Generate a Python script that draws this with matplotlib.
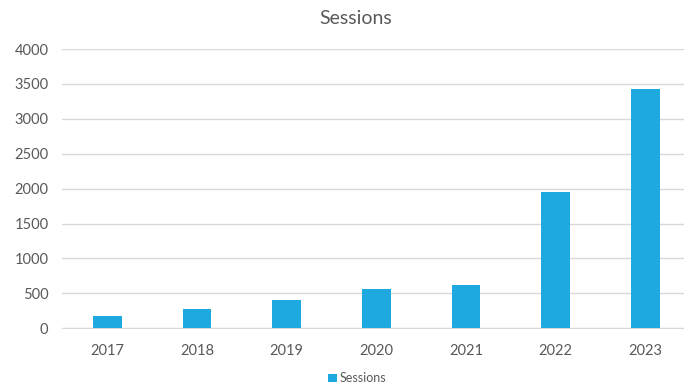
import matplotlib
matplotlib.use("Agg")
import matplotlib.pyplot as plt

# data
years = ['2017', '2018', '2019', '2020', '2021', '2022', '2023']
sessions = [180, 270, 405, 560, 620, 1955, 3430]

bar_color = '#1FA9E1'
text_color = '#595959'
grid_color = '#D9D9D9'

plt.rcParams['font.family'] = ['Lato', 'DejaVu Sans']

fig = plt.figure(figsize=(6.84, 3.88), dpi=100)
ax = fig.add_axes([0.0912, 0.1539, 0.918, 0.7198])

x = list(range(len(years)))
ax.bar(x, sessions, width=0.32, color=bar_color, label='Sessions', zorder=3)

ax.set_xlim(-0.5, len(years) - 0.5)
ax.set_ylim(0, 4000)
ax.set_yticks(range(0, 4001, 500))
ax.set_xticks(x)
ax.set_xticklabels(years)

ax.grid(axis='y', color=grid_color, linewidth=1, zorder=0)
for s in ['top', 'right', 'left']:
    ax.spines[s].set_visible(False)
ax.spines['bottom'].set_color(grid_color)
ax.tick_params(axis='both', length=0, colors=text_color, labelsize=10.5)
ax.tick_params(axis='y', pad=10)
ax.tick_params(axis='x', pad=11)

fig.text(0.52, 0.953, 'Sessions', ha='center', va='center',
         fontsize=14, color=text_color)

fig.legend(loc='center', bbox_to_anchor=(0.522, 0.025), frameon=False,
           fontsize=9, labelcolor=text_color, handlelength=0.7,
           handleheight=0.7, handletextpad=0.25)

fig.savefig('out.png', dpi=100)
